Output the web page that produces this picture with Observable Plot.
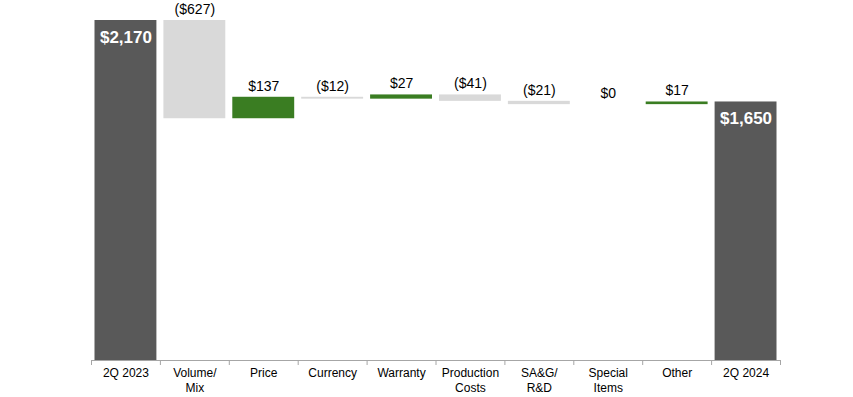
<!DOCTYPE html>
<html><head><meta charset="utf-8">
<script src="https://cdn.jsdelivr.net/npm/d3@7"></script>
<script src="https://cdn.jsdelivr.net/npm/@observablehq/plot@0.6"></script>
<style>body{margin:0;background:#fff} svg{font-family:"Liberation Sans",Arial,sans-serif}</style>
</head><body><div id="chart"></div>
<script>
const categories = ["2Q 2023","Volume/\nMix","Price","Currency","Warranty","Production\nCosts","SA&G/\nR&D","Special\nItems","Other","2Q 2024"];
const values = [2170,-627,137,-12,27,-41,-21,0,17,1650];
const kinds = ["total","delta","delta","delta","delta","delta","delta","delta","delta","total"];
const valueLabels = ["$2,170","($627)","$137","($12)","$27","($41)","($21)","$0","$17","$1,650"];

const DARK = "#595959", LIGHT = "#d9d9d9", GREEN = "#3a7d22";
let run = 0;
const data = categories.map((c, i) => {
  let start, end;
  if (kinds[i] === "total") { start = 0; end = values[i]; run = values[i]; }
  else { start = run; end = run + values[i]; run = end; }
  const fill = kinds[i] === "total" ? DARK : values[i] > 0 ? GREEN : values[i] < 0 ? LIGHT : "none";
  return {i, c, start, end, kind: kinds[i], label: valueLabels[i], fill};
});
const totals = data.filter(d => d.kind === "total");
const deltas = data.filter(d => d.kind === "delta");

const chart = Plot.plot({
  width: 853, height: 397,
  marginLeft: 91, marginRight: 73, marginTop: 20, marginBottom: 37,
  x: {domain: [0, categories.length], axis: null},
  y: {domain: [0, 2170], axis: null},
  marks: [
    Plot.rectY(data, {x1: d => d.i, x2: d => d.i + 1, y1: "start", y2: "end", fill: d => d.fill, insetLeft: 3.5, insetRight: 3.5}),
    Plot.ruleY([0], {stroke: "#a6a6a6"}),
    Plot.axisX({ticks: d3.range(0, categories.length + 1), tickSize: 5, tickFormat: () => "", stroke: "#a6a6a6"}),
    Plot.axisX({ticks: data.map(d => d.i + 0.5), tickSize: 0, tickPadding: 6, tickFormat: v => categories[Math.floor(v)], fontSize: 12, fill: "#000", lineHeight: 1.25}),
    Plot.text(deltas, {x: d => d.i + 0.5, y: d => Math.max(d.start, d.end), text: "label", dy: -11, fontSize: 14, fill: "#000"}),
    Plot.text(totals, {x: d => d.i + 0.5, y: "end", text: "label", fill: "white", fontWeight: "bold", fontSize: 17, lineAnchor: "top", dy: 10})
  ]
});
document.getElementById("chart").append(chart);
</script></body></html>
